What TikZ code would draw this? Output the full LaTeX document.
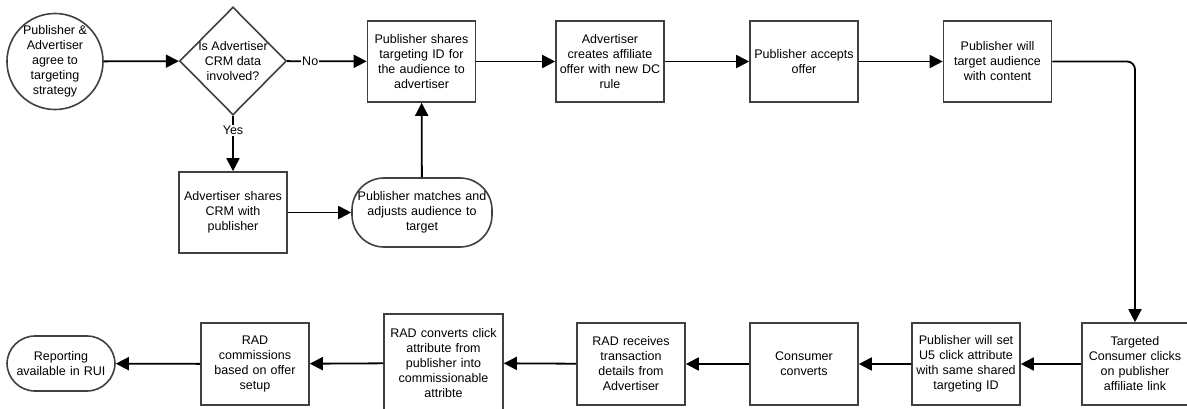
\documentclass[tikz,border=0pt]{standalone}
\usepackage{fontspec}
\setmainfont{Liberation Sans}
\usetikzlibrary{positioning,shapes.geometric,arrows.meta}

\begin{document}
\begin{tikzpicture}[x=1pt,y=-1pt,->,>={Triangle[length=13pt,width=13pt]},
  line width=1.8pt,font=\fontsize{12.5}{15}\selectfont,
  proc box/.style={rectangle,draw=black!75,line width=1.6pt,align=center,
  text width=104pt,inner sep=2pt,minimum width=108pt,minimum height=81pt},
  round box/.style={rectangle,draw=black!75,line width=1.6pt,align=center,
  rounded corners=28pt,inner sep=0pt},
  start node/.style={circle,draw=black!75,line width=1.6pt,align=center,
  inner sep=0pt,minimum size=96pt},
  decision node/.style={diamond,draw=black!75,line width=1.6pt,
  minimum width=107pt,minimum height=108pt,inner sep=0pt}]

  \useasboundingbox (0,0) rectangle (1187,409);

  % top row
  \node[start node] (agree) at (55,61.5) {Publisher \&\\Advertiser\\agree to\\targeting\\strategy};
  \node[decision node] (crm) at (233,61) {};
  \node[align=center] (crmtext) at (crm) {Is Advertiser\\CRM data\\involved?};
  \node[proc box] (shareid) at (421.5,61.5) {Publisher shares\\targeting ID for\\the audience to\\advertiser};
  \node[proc box] (offer) at (610,61.5) {Advertiser\\creates affiliate\\offer with new DC\\rule};
  \node[proc box] (accept) at (804,61.5) {Publisher accepts\\offer};
  \node[proc box] (target) at (997.5,61.5) {Publisher will\\target audience\\with content};

  % middle row
  \node[round box,text width=138pt,minimum width=140pt,minimum height=69pt,
    rounded corners=32pt] (match) at (422,212.5) {Publisher matches and\\adjusts audience to\\target};
  \node[proc box] (sharecrm) at (233,212.5) {Advertiser shares\\CRM with\\publisher};

  % bottom row
  \node[proc box,text width=102pt,minimum width=104pt,minimum height=82pt] (clicks) at (1135,364) {Targeted\\Consumer clicks\\on publisher\\affiliate link};
  \node[proc box,minimum height=82pt] (setattr) at (966,364) {Publisher will set\\U5 click attribute\\with same shared\\targeting ID};
  \node[proc box,minimum height=82pt] (converts) at (804,364) {Consumer\\converts};
  \node[proc box,minimum height=82pt] (receives) at (631,364) {RAD receives\\transaction\\details from\\Advertiser};
  \node[proc box,text width=115pt,minimum width=119pt,minimum height=98pt] (convattr) at (443.5,363) {RAD converts click\\attribute from\\publisher into\\commissionable\\attribte};
  \node[proc box,minimum height=82pt] (commission) at (255,364) {RAD\\commissions\\based on offer\\setup};
  \node[round box,text width=104pt,minimum width=108pt,minimum height=55pt] (report) at (61,363.5) {Reporting\\available in RUI};

  \path[every node/.style={fill=white,inner sep=1pt}]
    (agree) edge (crm)
    (crm) edge node[pos=0.29] {No} (shareid)
    (crm) edge node[pos=0.27] {Yes} (sharecrm)
    (sharecrm) edge (match)
    (match) edge (shareid)
    (shareid) edge (offer)
    (offer) edge (accept)
    (accept) edge (target)
    (clicks) edge (setattr)
    (setattr) edge (converts)
    (converts) edge (receives)
    (receives) edge (convattr)
    (convattr) edge (commission)
    (commission) edge (report);

  \draw[rounded corners=8pt] (target.east) -| (clicks.north);
\end{tikzpicture}
\end{document}
